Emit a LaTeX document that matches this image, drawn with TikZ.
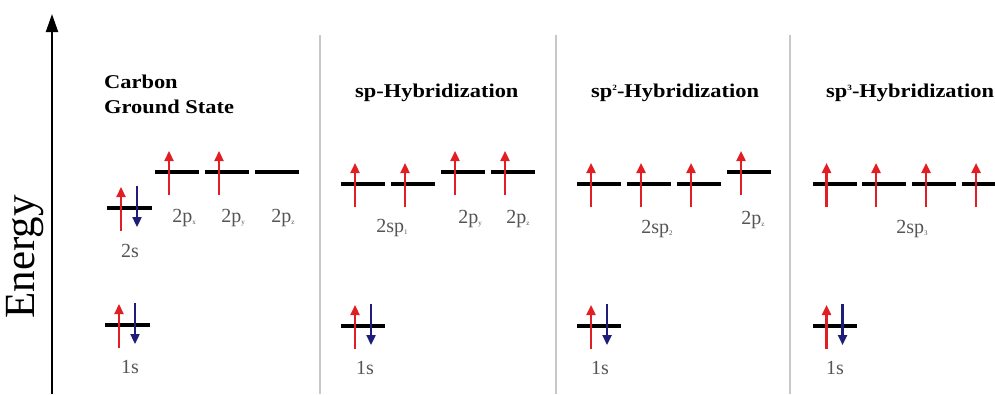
\documentclass[tikz,border=0pt]{standalone}
\usepackage{fontspec}
\setmainfont{Liberation Serif}
\usetikzlibrary{arrows.meta}
\definecolor{ered}{RGB}{225,30,35}
\definecolor{eblue}{RGB}{30,30,120}
\definecolor{lbl}{RGB}{85,85,85}
\definecolor{sep}{RGB}{200,200,200}
\newcommand\lsub[1]{\raisebox{-2.5pt}{\fontsize{7}{7}\selectfont #1}}
\newcommand\tsup[1]{\raisebox{7pt}{\fontsize{8}{8}\selectfont #1}}
\newcommand\ttltext[1]{\scalebox{1.15}[1]{#1}}
\newcommand\eup[1]{\draw[upe] ([shift={(-8,23)}]#1.center) -- ++(0,-44);}
\newcommand\edown[1]{\draw[dne] ([shift={(8,-22)}]#1.center) -- ++(0,41);}
\tikzset{
  lvl/.style={rectangle, fill=black, minimum width=44, minimum height=4.6, inner sep=0},
  upe/.style={draw=ered, line width=2.3, -{Triangle[length=10,width=9]}},
  dne/.style={draw=eblue, line width=2.3, -{Triangle[length=10,width=9]}},
  lab/.style={text=lbl, font=\fontsize{20}{20}\selectfont, anchor=base, inner sep=0},
  ttl/.style={font=\fontsize{19.5}{22}\selectfont\bfseries, anchor=base west, inner sep=0},
  sepline/.style={draw=sep, line width=2}
}
\begin{document}
\begin{tikzpicture}[x=1pt,y=-1pt]
\clip (0,0) rectangle (995,394);
\fill[white] (0,0) rectangle (995,394);
% axis
\coordinate (axb) at (52,394);
\coordinate (axt) at (52,14);
\draw[line width=2, -{Triangle[length=18,width=12]}] (axb) -- (axt);
\node[rotate=90, font=\fontsize{43}{43}\selectfont, inner sep=0] (energy) at (25,257) {Energy};
% separators
\foreach \x/\n in {320/s1,556/s2,790/s3} {
  \coordinate (\n t) at (\x,35);
  \coordinate (\n b) at (\x,394);
  \draw[sepline] (\n t) -- (\n b);
}
% titles
\node[ttl] (t0) at (104,88) {\ttltext{Carbon}};
\node[ttl] (t0b) at (104,113) {\ttltext{Ground State}};
\node[ttl] (t1) at (355,97) {\ttltext{sp-Hybridization}};
\node[ttl] (t2) at (591,97) {\ttltext{sp\tsup{2}-Hybridization}};
\node[ttl] (t3) at (826,97) {\ttltext{sp\tsup{3}-Hybridization}};
% ground state
\node[lvl, minimum width=45] (g2s) at (129,208) {};
\node[lvl] (gpx) at (177,172) {};
\node[lvl] (gpy) at (227,172) {};
\node[lvl] (gpz) at (277,172) {};
\node[lvl, minimum width=45] (g1s) at (127,325) {};
\eup{g2s}\edown{g2s}
\eup{gpx}\eup{gpy}
\eup{g1s}\edown{g1s}
\node[lab] (l2s) at (130,257) {2s};
\node[lab] (lpx) at (184,222) {2p\lsub{x}};
\node[lab] (lpy) at (233,222) {2p\lsub{y}};
\node[lab] (lpz) at (283,222) {2p\lsub{z}};
\node[lab] (l1s0) at (130,373) {1s};
% sp
\node[lvl] (a1) at (363,184) {};
\node[lvl] (a2) at (413,184) {};
\node[lvl] (apy) at (463,172) {};
\node[lvl] (apz) at (513,172) {};
\node[lvl] (a1s) at (363,326) {};
\eup{a1}\eup{a2}\eup{apy}\eup{apz}
\eup{a1s}\edown{a1s}
\node[lab] (la) at (392,232) {2sp\lsub{1}};
\node[lab] (lapy) at (470,223) {2p\lsub{y}};
\node[lab] (lapz) at (518,223) {2p\lsub{z}};
\node[lab] (l1s1) at (365,374) {1s};
% sp2
\node[lvl] (b1) at (599,184) {};
\node[lvl] (b2) at (649,184) {};
\node[lvl] (b3) at (699,184) {};
\node[lvl] (bpz) at (749,172) {};
\node[lvl] (b1s) at (599,326) {};
\eup{b1}\eup{b2}\eup{b3}\eup{bpz}
\eup{b1s}\edown{b1s}
\node[lab] (lb) at (657,233) {2sp\lsub{2}};
\node[lab] (lbpz) at (753,224) {2p\lsub{z}};
\node[lab] (l1s2) at (600,374) {1s};
% sp3
\node[lvl] (c1) at (834.5,184) {};
\node[lvl] (c2) at (884,184) {};
\node[lvl] (c3) at (934,184) {};
\node[lvl] (c4) at (984,184) {};
\node[lvl] (c1s) at (834.5,326) {};
\eup{c1}\eup{c2}\eup{c3}\eup{c4}
\eup{c1s}\edown{c1s}
\node[lab] (lc) at (912,233) {2sp\lsub{3}};
\node[lab] (l1s3) at (835,374) {1s};
\end{tikzpicture}
\end{document}
